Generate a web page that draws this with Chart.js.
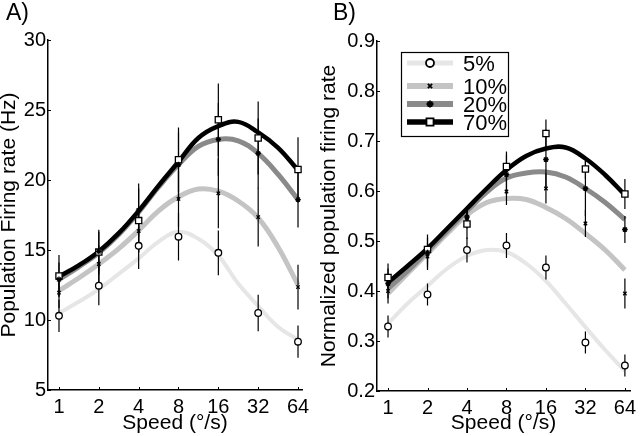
<!DOCTYPE html>
<html>
<head>
<meta charset="utf-8">
<script src="https://cdn.jsdelivr.net/npm/chart.js@4.4.0/dist/chart.umd.min.js"></script>
<style>
  html, body { margin: 0; padding: 0; background: #fff; }
  #wrap { display: flex; width: 640px; height: 436px; }
  .panel { position: relative; width: 320px; height: 436px; }
</style>
</head>
<body>
<div id="wrap">
  <div class="panel"><canvas id="chartA" width="320" height="436"></canvas></div>
  <div class="panel"><canvas id="chartB" width="320" height="436"></canvas></div>
</div>
<script>
// ---- data ----
const speeds = [1, 2, 4, 8, 16, 32, 64];
const fitSpeeds = [1, 1.41, 2, 2.83, 4, 5.66, 8, 11.3, 16, 22.6, 32, 45.3, 64];
const contrasts = ['5%', '10%', '20%', '70%'];
const xTicks = [1, 2, 4, 8, 16, 32, 64];
const yTicksA = [5, 10, 15, 20, 25, 30];
const yTicksB = [0.2, 0.3, 0.4, 0.5, 0.6, 0.7, 0.8, 0.9];

// A) population firing rate (Hz)
const rateMean5  = [10.3, 12.45, 15.3, 15.95, 14.8, 10.5, 8.45];
const rateErr5   = [1.15, 1.4, 1.65, 1.7, 1.6, 1.3, 1.15];
const rateMean10 = [11.95, 14.0, 16.35, 18.65, 19.05, 17.35, 12.35];
const rateErr10  = [1.1, 1.3, 1.5, 2.0, 2.5, 2.1, 1.6];
const rateMean20 = [12.9, 14.9, 17.85, 21.1, 22.9, 21.9, 18.6];
const rateErr20  = [1.2, 1.4, 1.9, 2.3, 2.6, 2.5, 2.0];
const rateMean70 = [13.15, 14.85, 17.1, 21.45, 24.3, 23.0, 20.75];
const rateErr70  = [1.5, 1.6, 2.3, 2.3, 2.6, 2.6, 2.3];
const rateFit5   = [10.5, 11.3, 12.2, 13.3, 14.4, 15.6, 16.3, 15.8, 14.6, 12.6, 11.0, 9.5, 8.6];
const rateFit10  = [12.1, 13.0, 14.0, 15.1, 16.4, 17.8, 18.8, 19.35, 19.2, 18.5, 17.3, 15.2, 12.5];
const rateFit20  = [12.9, 13.8, 14.8, 16.1, 17.7, 19.5, 21.1, 22.4, 22.9, 22.8, 21.9, 20.4, 18.6];
const rateFit70  = [13.1, 13.9, 14.9, 16.2, 17.8, 19.6, 21.3, 23.0, 23.85, 24.15, 23.4, 22.3, 20.7];

// B) normalized population firing rate
const normMean5  = [0.329, 0.393, 0.482, 0.491, 0.447, 0.297, 0.251];
const normErr5   = [0.022, 0.022, 0.025, 0.025, 0.024, 0.022, 0.022];
const normMean10 = [0.40, 0.469, 0.545, 0.599, 0.605, 0.535, 0.395];
const normErr10  = [0.025, 0.027, 0.02, 0.027, 0.03, 0.027, 0.03];
const normMean20 = [0.415, 0.477, 0.548, 0.633, 0.663, 0.605, 0.523];
const normErr20  = [0.03, 0.03, 0.015, 0.04, 0.06, 0.055, 0.027];
const normMean70 = [0.427, 0.483, 0.534, 0.649, 0.715, 0.644, 0.594];
const normErr70  = [0.028, 0.03, 0.03, 0.03, 0.028, 0.02, 0.03];
const normFit5   = [0.335, 0.375, 0.41, 0.445, 0.47, 0.482, 0.478, 0.455, 0.42, 0.375, 0.328, 0.282, 0.24];
const normFit10  = [0.395, 0.435, 0.475, 0.515, 0.552, 0.577, 0.585, 0.583, 0.567, 0.545, 0.515, 0.482, 0.442];
const normFit20  = [0.405, 0.44, 0.48, 0.52, 0.56, 0.598, 0.626, 0.636, 0.638, 0.628, 0.605, 0.577, 0.543];
const normFit70  = [0.417, 0.45, 0.485, 0.525, 0.565, 0.605, 0.642, 0.670, 0.685, 0.687, 0.665, 0.632, 0.592];

// ---- styles ----
const FONT = "'Liberation Sans', Arial, Helvetica, sans-serif";
const seriesStyle = [
  { color: '#e6e6e6', width: 4,   point: 'circle',   radius: 3.3, fill: '#ffffff' },
  { color: '#c4c4c4', width: 5,   point: 'crossRot', radius: 2.4, fill: '#000000' },
  { color: '#8a8a8a', width: 5,   point: 'star',     radius: 2.8, fill: '#000000' },
  { color: '#000000', width: 4.5, point: 'rect',     radius: 4.4, fill: '#ffffff' }
];

function buildDatasets(means, errs, fits) {
  const sets = [];
  means.forEach((m, i) => {
    const st = seriesStyle[i];
    // fitted tuning curve
    sets.push({
      label: contrasts[i] + ' fit',
      data: fitSpeeds.map((s, k) => ({ x: s, y: fits[i][k] })),
      showLine: true, tension: 0.4,
      borderColor: st.color, borderWidth: st.width,
      pointRadius: 0, order: 10 - i
    });
    // error bars, one segment per speed
    const bars = [];
    speeds.forEach((s, k) => {
      bars.push({ x: s, y: m[k] - errs[i][k] });
      bars.push({ x: s, y: m[k] + errs[i][k] });
      bars.push({ x: s, y: null });
    });
    sets.push({
      label: contrasts[i] + ' sem',
      data: bars, showLine: true, spanGaps: false, tension: 0,
      borderColor: '#000', borderWidth: 1.2,
      pointRadius: 0, order: 1
    });
    // data markers
    sets.push({
      label: contrasts[i],
      data: speeds.map((s, k) => ({ x: s, y: m[k] })),
      showLine: false,
      pointStyle: st.point, pointRadius: st.radius,
      pointBackgroundColor: st.fill, pointBorderColor: '#000',
      pointBorderWidth: 1.3, order: 0
    });
  });
  return sets;
}

function buildScales(cfg) {
  return {
    x: {
      type: 'logarithmic', min: cfg.xMin, max: cfg.xMax, bounds: 'data',
      afterBuildTicks: s => { s.ticks = xTicks.map(v => ({ value: v })); },
      afterFit: s => { s.height = cfg.xHeight; s.paddingLeft = 0; s.paddingRight = 0; },
      ticks: { autoSkip: false, maxRotation: 0, minRotation: 0, padding: 5, color: '#000',
               font: { family: FONT, size: 20 }, callback: v => String(v) },
      grid: { drawOnChartArea: false, drawTicks: false },
      border: { display: true, color: '#000', width: 1.5 },
      title: { display: true, text: 'Speed (°/s)', color: '#000',
               font: { family: FONT, size: 21 }, padding: { top: 0, bottom: 0 } }
    },
    y: {
      type: 'linear', min: cfg.yMin, max: cfg.yMax,
      afterBuildTicks: s => { s.ticks = cfg.yTicks.map(v => ({ value: v })); },
      afterFit: s => { s.width = cfg.yWidth; s.paddingTop = 0; s.paddingBottom = 0; },
      ticks: { padding: 2, color: '#000', font: { family: FONT, size: 20 }, callback: cfg.yFormat },
      grid: { drawOnChartArea: false, drawTicks: false },
      border: { display: true, color: '#000', width: 1.5 },
      title: { display: true, text: cfg.yTitle, color: '#000',
               font: { family: FONT, size: 21, lineHeight: 0.9 }, padding: { top: 0, bottom: 0 } }
    }
  };
}

// inward tick marks, MATLAB style
const innerTicks = {
  id: 'innerTicks',
  afterDraw(chart) {
    const { ctx, chartArea, scales } = chart;
    ctx.save();
    ctx.strokeStyle = '#000';
    ctx.lineWidth = 1;
    ctx.beginPath();
    scales.x.ticks.forEach(t => {
      const px = Math.round(scales.x.getPixelForValue(t.value)) + 0.5;
      ctx.moveTo(px, chartArea.bottom);
      ctx.lineTo(px, chartArea.bottom - 3);
    });
    scales.y.ticks.forEach(t => {
      const py = Math.round(scales.y.getPixelForValue(t.value)) + 0.5;
      ctx.moveTo(chartArea.left, py);
      ctx.lineTo(chartArea.left + 3, py);
    });
    ctx.stroke();
    ctx.restore();
  }
};

// panel letter and the boxed legend
const decorations = {
  id: 'decorations',
  afterDraw(chart, args, opts) {
    const ctx = chart.ctx;
    ctx.save();
    ctx.fillStyle = '#000';
    ctx.font = '23px ' + FONT;
    ctx.textBaseline = 'alphabetic';
    ctx.fillText(opts.letter, opts.letterX, 20);
    if (opts.legend) {
      const L = opts.legend;
      ctx.strokeStyle = '#000';
      ctx.lineWidth = 1.2;
      ctx.strokeRect(L.x + 0.5, L.y + 0.5, L.w, L.h);
      L.rows.forEach((ry, i) => {
        const st = seriesStyle[i];
        ctx.strokeStyle = st.color;
        ctx.lineWidth = st.width + 1;
        ctx.beginPath();
        ctx.moveTo(L.lineX0, ry);
        ctx.lineTo(L.lineX1, ry);
        ctx.stroke();
        ctx.fillStyle = st.fill;
        ctx.strokeStyle = '#000';
        ctx.lineWidth = 1.8;
        Chart.helpers.drawPoint(ctx, { pointStyle: st.point, radius: L.markerR[i], borderWidth: 1.8 },
                                (L.lineX0 + L.lineX1) / 2, ry);
        ctx.fillStyle = '#000';
        ctx.font = '22px ' + FONT;
        ctx.fillText(contrasts[i], L.textX, ry + 8);
      });
    }
    ctx.restore();
  }
};

function makeChart(id, datasets, scaleCfg, padding, deco) {
  return new Chart(document.getElementById(id), {
    type: 'scatter',
    data: { datasets },
    options: {
      responsive: false,
      animation: false,
      layout: { padding },
      scales: buildScales(scaleCfg),
      plugins: { legend: { display: false }, tooltip: { enabled: false }, decorations: deco }
    },
    plugins: [innerTicks, decorations]
  });
}

makeChart('chartA',
  buildDatasets([rateMean5, rateMean10, rateMean20, rateMean70],
                [rateErr5, rateErr10, rateErr20, rateErr70],
                [rateFit5, rateFit10, rateFit20, rateFit70]),
  { xMin: 0.826, xMax: 68.6, xHeight: 46, yMin: 5, yMax: 30, yTicks: yTicksA, yWidth: 48,
    yTitle: 'Population Firing rate (Hz)', yFormat: v => String(v) },
  { top: 40, right: 18, left: 0, bottom: 0 },
  { letter: 'A)', letterX: 6 });

makeChart('chartB',
  buildDatasets([normMean5, normMean10, normMean20, normMean70],
                [normErr5, normErr10, normErr20, normErr70],
                [normFit5, normFit10, normFit20, normFit70]),
  { xMin: 0.824, xMax: 70.0, xHeight: 45, yMin: 0.2, yMax: 0.9, yTicks: yTicksB, yWidth: 57,
    yTitle: 'Normalized population firing rate', yFormat: v => v.toFixed(1) },
  { top: 41, right: 10, left: 0, bottom: 0 },
  { letter: 'B)', letterX: 13,
    legend: { x: 81, y: 52, w: 107, h: 84, lineX0: 87, lineX1: 133, textX: 143,
              rows: [63, 86, 104, 122], markerR: [4, 3, 3.5, 5] } });
</script>
</body>
</html>
